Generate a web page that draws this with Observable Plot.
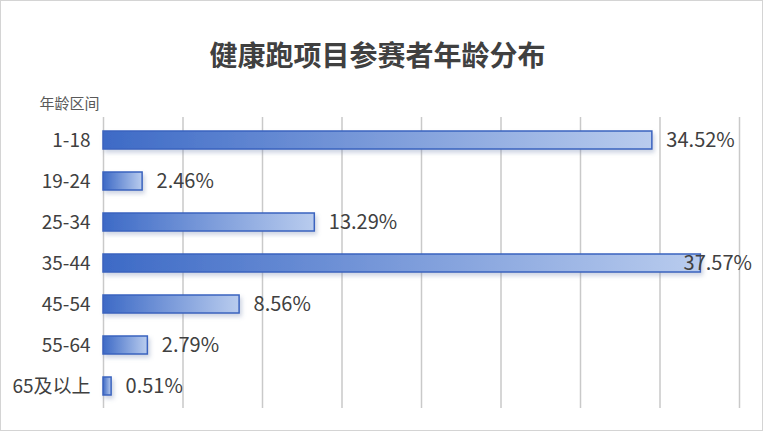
<!DOCTYPE html>
<html><head><meta charset="utf-8">
<script src="https://cdn.jsdelivr.net/npm/d3@7"></script>
<script src="https://cdn.jsdelivr.net/npm/@observablehq/plot@0.6"></script>
<style>
html,body{margin:0;padding:0;background:#fff}
#frame{width:763px;height:431px;box-sizing:border-box;border:1px solid #d4d4d4;position:relative;overflow:hidden;font-family:"Noto Sans CJK SC",sans-serif}
#title{height:89px;box-sizing:border-box;padding-top:36px;line-height:34px;text-align:center;font-size:28px;font-weight:bold;color:#404040;padding-right:8px}
#chart svg{display:block}
</style></head><body>
<div id="frame"><div id="title">健康跑项目参赛者年龄分布</div><div id="chart"></div></div>
<script>
const categories = ["1-18", "19-24", "25-34", "35-44", "45-54", "55-64", "65及以上"];
const values = [34.52, 2.46, 13.29, 37.57, 8.56, 2.79, 0.51];
const gridTicks = [0, 5, 10, 15, 20, 25, 30, 35, 40];
const axisTitle = "年龄区间";

const data = categories.map((c, i) => ({category: c, value: values[i]}));

const plot = Plot.plot({
  width: 761,
  height: 340,
  marginLeft: 102,
  marginRight: 23,
  marginTop: 27,
  marginBottom: 22,
  style: {fontFamily: '"Noto Sans CJK SC", sans-serif', color: "#404040", background: "transparent"},
  x: {domain: [0, 40], axis: null},
  y: {domain: categories, paddingInner: 0.57, paddingOuter: 0.285, axis: null},
  marks: [
    Plot.gridX(gridTicks, {stroke: "#c9c9c9", strokeOpacity: 1, strokeWidth: 1.5}),
    Plot.axisY({tickSize: 0, tickPadding: 13, fontSize: 19, label: null, fill: "#404040"}),
    Plot.barX(data, {x: "value", y: "category", fill: "url(#barGrad)", stroke: "#3a63bf", strokeWidth: 1.5}),
    Plot.text(data, {
      x: d => Math.min(d.value, 35.6), y: "category",
      text: d => d.value.toFixed(2) + "%",
      textAnchor: "start", dx: 14, fontSize: 20, fill: "#404040"
    }),
    Plot.text([axisTitle], {frameAnchor: "top-left", textAnchor: "start", lineAnchor: "middle", dx: -64, dy: -13, fontSize: 15, fill: "#595959"})
  ]
});

const svg = d3.select(plot);
const defs = svg.insert("defs", ":first-child");
const grad = defs.append("linearGradient").attr("id", "barGrad")
  .attr("x1", 0).attr("x2", 1).attr("y1", 0).attr("y2", 0);
grad.append("stop").attr("offset", "0%").attr("stop-color", "#3d6ac6");
grad.append("stop").attr("offset", "100%").attr("stop-color", "#b9ccee");
const filt = defs.append("filter").attr("id", "barShadow")
  .attr("x", "-10%").attr("y", "-50%").attr("width", "120%").attr("height", "220%");
filt.append("feDropShadow").attr("dx", 2).attr("dy", 3).attr("stdDeviation", 2)
  .attr("flood-color", "#6f82ad").attr("flood-opacity", 0.35);
svg.selectAll('g[aria-label="bar"]').attr("filter", "url(#barShadow)");

document.getElementById("chart").appendChild(plot);
</script>
</body></html>
